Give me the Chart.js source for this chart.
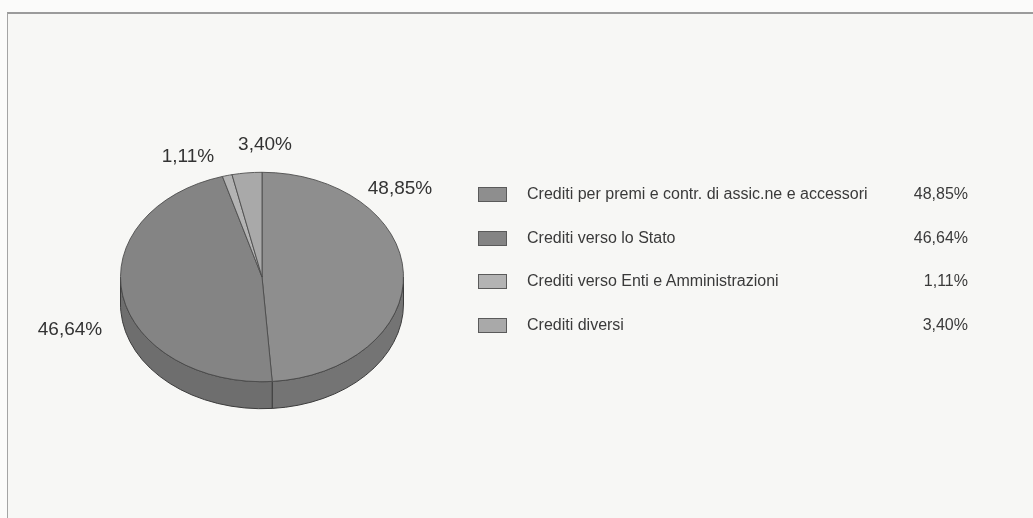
<!DOCTYPE html>
<html>
<head>
<meta charset="utf-8">
<script src="https://cdn.jsdelivr.net/npm/chart.js@4.4.1/dist/chart.umd.min.js"></script>
<style>
  html, body { margin: 0; padding: 0; background: #fbfbfa; }
  #wrap { position: relative; width: 1033px; height: 518px; overflow: hidden; }
  #cornice {
    position: absolute; left: 7px; top: 12px; width: 1040px; height: 520px;
    border-top: 2px solid #9b9b9b; border-left: 1px solid #a4a4a4; background: #f7f7f5;
  }
  #torta { position: absolute; left: 0; top: 0; }
  #legenda { position: absolute; left: 478px; top: 0; width: 490px; font-family: "Liberation Sans", Arial, sans-serif; font-size: 16px; color: #3a3a3a; }
  .riga { position: absolute; left: 0; width: 490px; height: 20px; line-height: 20px; }
  .quad { position: absolute; left: 0; top: 3px; width: 27px; height: 13px; border: 1px solid #5a5a5a; }
  .voce { position: absolute; left: 49px; top: 0; white-space: nowrap; }
  .perc { position: absolute; right: 0; top: 0; }
</style>
</head>
<body>
<div id="wrap">
  <div id="cornice"></div>
  <canvas id="torta" width="1033" height="518"></canvas>
  <div id="legenda"></div>
</div>
<script>
// voci e quote dei crediti
var voci = [
  "Crediti per premi e contr. di assic.ne e accessori",
  "Crediti verso lo Stato",
  "Crediti verso Enti e Amministrazioni",
  "Crediti diversi"
];
var quote = [48.85, 46.64, 1.11, 3.40];

// colori: faccia superiore e fianco della torta
var colori = ["#8e8e8e", "#848484", "#b3b3b3", "#a9a9a9"];
var coloriLati = ["#747474", "#6e6e6e", "#8e8e8e", "#888888"];

function fmt(v) {
  return v.toFixed(2).replace(".", ",") + "%";
}

// torta "3d": schiaccia il disco e disegna il fianco sotto
var torta3d = {
  id: "torta3d",
  beforeDatasetsDraw: function (chart, args, opts) {
    var ctx = chart.ctx;
    var archi = chart.getDatasetMeta(0).data;
    var cx = archi[0].x, cy = archi[0].y, r = archi[0].outerRadius;
    var k = opts.schiaccia, h = opts.spessore / k;

    archi.forEach(function (arco, i) {
      var s = Math.max(arco.startAngle, 0);
      var e = Math.min(arco.endAngle, Math.PI);
      if (e <= s) return;
      ctx.save();
      ctx.translate(cx, cy); ctx.scale(1, k); ctx.translate(-cx, -cy);
      ctx.beginPath();
      ctx.arc(cx, cy + h, r, s, e);
      ctx.arc(cx, cy, r, e, s, true);
      ctx.closePath();
      ctx.restore();
      ctx.fillStyle = coloriLati[i];
      ctx.fill();
      ctx.lineWidth = 1;
      ctx.strokeStyle = "#3c3c3c";
      ctx.stroke();
    });

    ctx.save();
    ctx.translate(cx, cy); ctx.scale(1, k); ctx.translate(-cx, -cy);
  },
  afterDatasetsDraw: function (chart) {
    chart.ctx.restore();
  },
  afterDraw: function (chart, args, opts) {
    var ctx = chart.ctx;
    ctx.save();
    ctx.font = "19px 'Liberation Sans', Arial, sans-serif";
    ctx.fillStyle = "#333";
    ctx.textAlign = "center";
    ctx.textBaseline = "middle";
    quote.forEach(function (q, i) {
      var p = opts.etichette[i];
      ctx.fillText(fmt(q), p[0], p[1]);
    });
    ctx.restore();
  }
};

new Chart(document.getElementById("torta"), {
  type: "pie",
  data: {
    labels: voci,
    datasets: [{
      data: quote,
      backgroundColor: colori,
      borderColor: "#4a4a4a",
      borderWidth: 1,
      clip: false
    }]
  },
  options: {
    responsive: false,
    animation: false,
    events: [],
    layout: { padding: { left: 120, right: 629, top: 135, bottom: 99 } },
    plugins: {
      legend: { display: false },
      tooltip: { enabled: false },
      torta3d: {
        schiaccia: 0.74,
        spessore: 27,
        etichette: [[400, 189], [70, 330], [188, 157], [265, 145]]
      }
    }
  },
  plugins: [torta3d]
});

// legenda con le percentuali a destra
var legenda = document.getElementById("legenda");
voci.forEach(function (v, i) {
  var riga = document.createElement("div");
  riga.className = "riga";
  riga.style.top = (184 + i * 43.7) + "px";
  riga.innerHTML = '<span class="quad" style="background:' + colori[i] + '"></span>' +
    '<span class="voce">' + v + '</span><span class="perc">' + fmt(quote[i]) + '</span>';
  legenda.appendChild(riga);
});
</script>
</body>
</html>
